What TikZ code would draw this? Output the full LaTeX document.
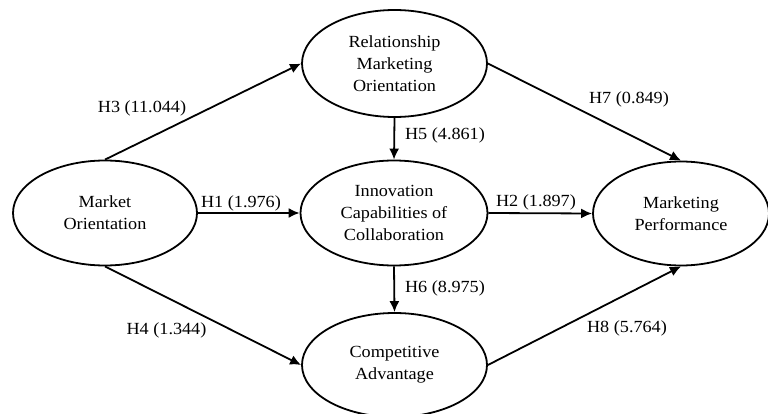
\documentclass[tikz,border=0pt]{standalone}
\usepackage{fontspec}
\setmainfont{Liberation Serif}[FakeStretch=1.07]
\usetikzlibrary{arrows.meta,shapes.geometric}
\tikzset{
  construct/.style={draw,ellipse,line width=1.8pt,align=center,inner sep=0pt,
    font=\fontsize{17}{21.7}\selectfont},
  link/.style={-{Latex[length=11pt,width=10pt]},line width=1.8pt},
  hyp/.style={font=\fontsize{17}{20}\selectfont}
}

\begin{document}
\begin{tikzpicture}[x=1pt,y=-1pt]
\useasboundingbox (0,0) rectangle (768,414);
\node[construct,minimum width=184pt,minimum height=105pt] (mo) at (105,213) {Market\\Orientation};
\node[construct,minimum width=185pt,minimum height=107pt] (rmo) at (394.5,63.5) {Relationship\\Marketing\\Orientation};
\node[construct,minimum width=187pt,minimum height=105pt] (icc) at (394,213) {Innovation\\Capabilities of\\Collaboration};
\node[construct,minimum width=185pt,minimum height=104pt] (ca) at (394.5,365) {Competitive\\Advantage};
\node[construct,minimum width=176pt,minimum height=104pt] (mp) at (681,213.5) {Marketing\\Performance};
\draw[link] (mo.north) -- (rmo.west);
\draw[link] (mo.south) -- (ca.west);
\draw[link] (mo.east) -- (icc.west);
\draw[link] (icc.east) -- (mp.west);
\draw[link] (rmo.south) -- (icc.north);
\draw[link] (icc.south) -- (ca.north);
\draw[link] (rmo.east) -- (mp.north);
\draw[link] (ca.east) -- (mp.south);
\node[hyp] (h3) at (142,108) {H3 (11.044)};
\node[hyp] (h4) at (166.5,330) {H4 (1.344)};
\node[hyp] (h1) at (241,203) {H1 (1.976)};
\node[hyp] (h2) at (536,202) {H2 (1.897)};
\node[hyp] (h5) at (445,135) {H5 (4.861)};
\node[hyp] (h6) at (445,288) {H6 (8.975)};
\node[hyp] (h7) at (629,99) {H7 (0.849)};
\node[hyp] (h8) at (627,328) {H8 (5.764)};
\end{tikzpicture}
\end{document}
